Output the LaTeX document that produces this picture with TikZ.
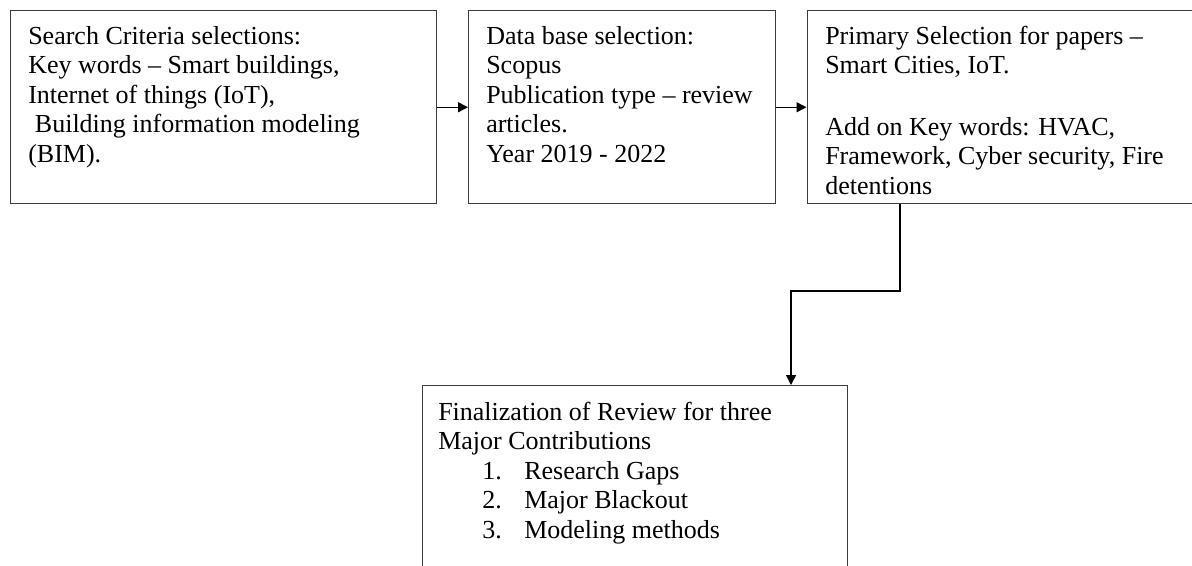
\documentclass[tikz,border=0pt]{standalone}
\usepackage{fontspec}
\setmainfont{Liberation Serif}
\usetikzlibrary{arrows.meta,calc}
\definecolor{boxline}{HTML}{3C3C3C}
\begin{document}
\begin{tikzpicture}[x=0.75pt,y=-0.75pt,
  box/.style={draw=boxline, line width=1.1pt, inner sep=0pt, anchor=north west},
  txt/.style={inner sep=0pt, anchor=base west, align=left, font=\fontsize{19.5pt}{22.1pt}\selectfont, text=black},
  arr/.style={draw=black, line width=1.1pt, -{Triangle[length=7.5pt,width=7.5pt]}}]
\useasboundingbox (0,0) rectangle (1192,565);
% boxes
\node[box, minimum width=319.5pt, minimum height=144.75pt] (b1) at (10,10) {};
\node[box, minimum width=230.25pt, minimum height=144.75pt] (b2) at (468,10) {};
\node[box, minimum width=295pt, minimum height=144.75pt] (b3) at (806.5,10) {};
\node[box, minimum width=319.1pt, minimum height=161.25pt] (b4) at (421.5,385) {};
% texts (anchored at the baseline of their last line)
\node[txt] (t1) at (28,162) {Search Criteria selections:\\Key words – Smart buildings,\\Internet of things (IoT),\\\hspace*{5pt}Building information modeling\\(BIM).};
\node[txt] (t2) at (486,162) {Data base selection:\\Scopus\\Publication type – review\\articles.\\Year 2019 - 2022};
\node[txt] (t3a) at (825,73.5) {Primary Selection for papers –\\Smart Cities, IoT.};
\node[txt] (t3b) at (825,194) {Add on Key words: HVAC,\\Framework, Cyber security, Fire\\detentions};
\node[txt] (t4) at (438,538) {Finalization of Review for three\\Major Contributions\\\hspace*{33pt}\makebox[31.5pt][l]{1.}Research Gaps\\\hspace*{33pt}\makebox[31.5pt][l]{2.}Major Blackout\\\hspace*{33pt}\makebox[31.5pt][l]{3.}Modeling methods};
% connectors
\draw[arr] (b1.east) -- (b2.west);
\draw[arr] (b2.east) -- (b3.west);
\coordinate (k1) at (900,291);
\coordinate (k2) at (791,291);
\draw[arr] (b3.south -| k1) -- (k1) -- (k2) -- (k2 |- b4.north);
\end{tikzpicture}
\end{document}
